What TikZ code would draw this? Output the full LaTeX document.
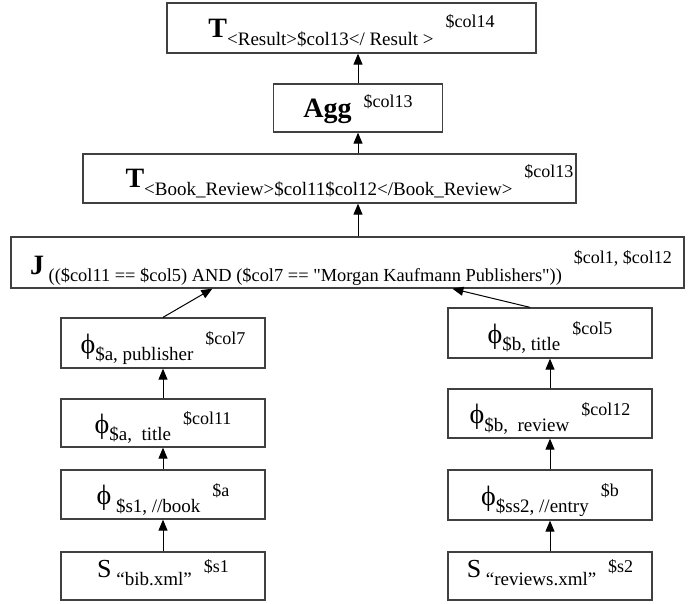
\documentclass[tikz,border=0pt]{standalone}
\usepackage{fontspec}
\setmainfont{Liberation Serif}[Ligatures=TeXOff]
\usetikzlibrary{arrows.meta}
% #1 head, #2 subscript, #3 superscript, #4 head baseline below centre,
% #5 subscript drop, #6 superscript rise
\newcommand\opbox[6]{\raisebox{-#4pt}{#1\raisebox{-#5pt}{#2}\hspace{12pt}\raisebox{#6pt}{#3}}}
\newcommand\bighead[1]{{\fontsize{28}{28}\selectfont\bfseries #1}}
\newcommand\midhead[2]{{\fontsize{#1}{#1}\selectfont #2}}
\newcommand\supcol[1]{{\fontsize{18}{18}\selectfont #1}}
\newcommand\upperop[3]{\opbox{\bighead{#1}}{#2}{\supcol{#3}}{9}{8}{10}}
\newcommand\joinop[2]{\opbox{\bighead{J}}{#1}{\supcol{#2}}{12}{7}{11}}
\newcommand\phiop[2]{\opbox{\midhead{28}{ϕ}}{#1}{\supcol{#2}}{10}{7.5}{8.5}}
\newcommand\srcop[2]{\opbox{\midhead{26}{S}}{#1}{\supcol{#2}}{1.5}{7.5}{5}}
\begin{document}
\begin{tikzpicture}[%
    x=1pt,y=-1pt,%
    font=\fontsize{19}{19}\selectfont,%
    opnode/.style={draw=black!75,line width=1.3pt,inner sep=0pt,%
        text height=0pt,text depth=0pt,minimum height=49pt},%
    colnode/.style={opnode,minimum width=204pt},%
    flow/.style={-{Triangle[width=9pt,length=11pt]},line width=1pt},%
]%
    \useasboundingbox (0,0) rectangle (693,603);

    % upper chain
    \node[opnode,minimum width=369pt,minimum height=50pt] (result) at (351.5,28)
        {\upperop{T}{<Result>\$col13</ Result >}{\$col14}};
    \node[opnode,minimum width=169pt,minimum height=48pt] (agg) at (358,108)
        {\upperop{Agg}{}{\$col13}};
    \node[opnode,minimum width=493pt] (review) at (329.5,178.5)
        {\hspace*{40pt}\upperop{T}{<Book\_Review>\$col11\$col12</Book\_Review>}{\$col13}};
    \node[opnode,minimum width=673pt,minimum height=51pt] (join) at (347.5,262.5)
        {\hspace*{7pt}\joinop{\fontsize{18.4}{18}\selectfont\ ((\$col11 == \$col5) AND (\$col7 == "Morgan Kaufmann Publishers"))}{\$col1, \$col12}};

    % left branch
    \node[colnode,minimum height=50pt] (apub) at (163,343) {\phiop{\$a, publisher}{\$col7}};
    \node[colnode,minimum height=48pt] (atitle) at (163,423) {\phiop{\$a,\ \ title}{\$col11}};
    \node[colnode] (abook) at (163,494.5) {\phiop{\ \$s1, //book}{\$a}};
    \node[colnode,minimum height=48pt] (bib) at (163,576) {\srcop{\ “bib.xml”}{\$s1}};

    % right branch
    \node[colnode,minimum height=50pt] (btitle) at (550,333) {\phiop{\$b, title}{\$col5}};
    \node[colnode] (breview) at (550,413.5) {\phiop{\$b,\ \ review}{\$col12}};
    \node[colnode,minimum height=50pt] (bentry) at (550,495) {\phiop{\$ss2, //entry}{\$b}};
    \node[colnode,minimum height=48pt] (reviews) at (550,576) {\srcop{\ “reviews.xml”}{\$s2}};

    % connectors
    \draw[flow] (bib) -- (abook);
    \draw[flow] (abook) -- (atitle);
    \draw[flow] (atitle) -- (apub);
    \draw[flow] (reviews) -- (bentry);
    \draw[flow] (bentry) -- (breview);
    \draw[flow] (breview) -- (btitle);
    \draw[flow] (apub.north) -- ([xshift=202pt]join.south west);
    \draw[flow] ([xshift=-20pt]btitle.north) -- ([xshift=442pt]join.south west);
    \draw[flow] (join.north -| agg) -- (review.south -| agg);
    \draw[flow] (review.north -| agg) -- (agg.south);
    \draw[flow] (agg.north) -- (result.south -| agg);
\end{tikzpicture}
\end{document}
